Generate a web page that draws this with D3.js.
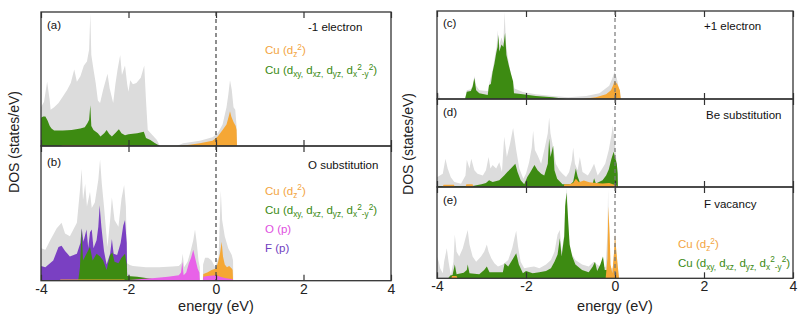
<!DOCTYPE html>
<html><head><meta charset="utf-8">
<script src="https://cdn.jsdelivr.net/npm/d3@7"></script>
<style>
body{margin:0;background:#fff}
svg{display:block}
text{font-family:"Liberation Sans",Arial,Helvetica,sans-serif}
</style>
</head><body>
<svg id="chart" width="803" height="319"></svg>
<script>
// ---------------- data: [energy (eV), DOS (states/eV)] ----------------
const xTicks = [-4, -2, 0, 2, 4];

// (a) -1 electron
const aTotal = [[-4,2.9],[-3.93,3.3],[-3.86,4.8],[-3.8,3.4],[-3.78,2.7],[-3.7,2.9],[-3.6,3.2],[-3.5,3.7],[-3.4,4.2],[-3.32,4.7],[-3.24,5.7],[-3.18,4.8],[-3.1,5.2],[-3.02,6.0],[-2.95,6.3],[-2.9,7.2],[-2.873,9.9],[-2.85,6.8],[-2.8,5.7],[-2.75,4.7],[-2.7,3.4],[-2.65,3.2],[-2.58,4.2],[-2.52,4.9],[-2.48,5.4],[-2.43,4.3],[-2.35,3.2],[-2.3,4.6],[-2.25,5.7],[-2.19,6.8],[-2.15,5.3],[-2.08,6.0],[-2.03,4.6],[-2.0,4.05],[-1.96,4.9],[-1.9,4.6],[-1.82,4.7],[-1.72,5.1],[-1.64,6.0],[-1.6,3.4],[-1.56,1.2],[-1.45,0.8],[-1.35,0.45],[-1.28,0],[-0.9,0],[-0.86,0.05],[-0.75,0.2],[-0.37,0.4],[-0.08,0.65],[0.04,0.95],[0.15,1.6],[0.24,2.9],[0.28,3.8],[0.32,4.9],[0.36,4.2],[0.40,2.9],[0.44,2.7],[0.47,1.5],[0.48,0],[4,0]];
const aCuD = [[-4,2.1],[-3.95,2.2],[-3.9,2.2],[-3.85,1.9],[-3.8,1.5],[-3.76,1.3],[-3.7,1.15],[-3.5,1.15],[-3.3,1.2],[-3.1,1.3],[-3.0,1.4],[-2.94,1.7],[-2.9,1.95],[-2.873,3.05],[-2.85,1.5],[-2.8,1.2],[-2.7,0.95],[-2.64,0.7],[-2.55,0.97],[-2.5,1.2],[-2.44,0.9],[-2.38,0.7],[-2.3,0.97],[-2.22,1.25],[-2.16,0.95],[-2.08,0.8],[-2.0,0.87],[-1.8,0.95],[-1.65,1.07],[-1.6,0.6],[-1.5,0.45],[-1.4,0.22],[-1.28,0],[4,0]];
const aCuDz2 = [[-4,0],[-3.55,0],[-3.5,0.08],[-2.05,0.08],[-2.0,0],[-0.86,0],[-0.6,0.1],[-0.37,0.2],[-0.08,0.4],[0.04,0.7],[0.15,1.2],[0.24,1.6],[0.29,2.2],[0.32,2.6],[0.35,2.2],[0.40,1.8],[0.45,1.5],[0.47,1.2],[0.48,0],[4,0]];

// (b) O substitution
const bTotal = [[-4,2.4],[-3.9,2.3],[-3.79,3.0],[-3.64,3.9],[-3.53,4.3],[-3.45,3.5],[-3.34,3.3],[-3.18,4.3],[-3.11,6.7],[-3.07,8.3],[-3.04,6.0],[-2.99,7.2],[-2.95,5.5],[-2.88,6.6],[-2.84,5.4],[-2.77,5.8],[-2.69,7.5],[-2.65,9.0],[-2.61,7.2],[-2.56,5.5],[-2.52,4.0],[-2.48,2.5],[-2.42,4.5],[-2.38,6.2],[-2.32,4.5],[-2.23,4.0],[-2.16,6.1],[-2.10,7.1],[-2.06,5.5],[-2.03,1.3],[-1.97,1.17],[-1.9,1.1],[-1.6,1.0],[-1.3,1.0],[-1.0,1.05],[-0.85,1.1],[-0.79,1.3],[-0.76,2.0],[-0.73,1.0],[-0.65,1.4],[-0.58,2.2],[-0.52,3.0],[-0.48,3.8],[-0.44,2.8],[-0.40,1.5],[-0.37,1.0],[-0.365,0],[-0.30,0],[-0.295,1.2],[-0.25,1.7],[-0.18,1.7],[-0.10,1.5],[-0.02,1.0],[0.06,1.8],[0.11,6.7],[0.14,4.5],[0.2,3.3],[0.28,2.4],[0.36,1.9],[0.39,1.5],[0.395,0],[4,0]];
const bFp = [[-4,1.1],[-3.9,1.0],[-3.72,1.5],[-3.60,2.5],[-3.53,2.6],[-3.45,2.2],[-3.34,1.8],[-3.18,2.0],[-3.10,2.8],[-3.07,3.9],[-3.03,2.9],[-2.96,3.8],[-2.92,2.4],[-2.88,3.6],[-2.84,3.8],[-2.80,2.4],[-2.73,3.0],[-2.69,4.0],[-2.66,5.6],[-2.62,4.0],[-2.56,2.2],[-2.50,1.2],[-2.42,2.0],[-2.38,3.1],[-2.34,2.0],[-2.26,1.9],[-2.18,2.8],[-2.12,4.1],[-2.08,4.5],[-2.04,2.8],[-2.03,0],[4,0]];
const bCuD = [[-4,0],[-3.15,0],[-3.11,1.0],[-3.07,3.9],[-3.04,1.5],[-2.96,2.0],[-2.88,2.5],[-2.82,1.5],[-2.73,2.0],[-2.65,1.8],[-2.58,1.5],[-2.50,0.8],[-2.42,1.9],[-2.37,2.1],[-2.32,1.4],[-2.23,1.3],[-2.16,1.7],[-2.08,2.0],[-2.04,1.2],[-2.03,0.35],[-1.8,0.3],[-1.6,0.2],[-1.4,0.1],[-1.3,0],[4,0]];
const bCuDz2 = [[-4,0],[-3.6,0],[-3.55,0.08],[-2.1,0.08],[-2.05,0],[-0.30,0],[-0.29,0.5],[-0.2,0.6],[-0.1,0.8],[0,0.9],[0.05,1.4],[0.09,2.0],[0.13,2.9],[0.16,1.8],[0.2,1.2],[0.25,1.0],[0.3,1.1],[0.36,0.9],[0.38,0.8],[0.39,0],[4,0]];
const bOp = [[-4,0],[-2.05,0],[-2.0,0.05],[-1.7,0.12],[-1.4,0.2],[-1.1,0.3],[-0.85,0.4],[-0.80,0.6],[-0.77,1.4],[-0.74,0.4],[-0.68,0.6],[-0.62,1.3],[-0.57,1.7],[-0.52,2.3],[-0.47,1.6],[-0.42,0.9],[-0.38,0.6],[-0.37,0],[-0.30,0],[-0.29,0.3],[-0.2,0.35],[0,0.4],[0.1,0.3],[0.2,0.2],[0.38,0.1],[0.39,0],[4,0]];

// (c) +1 electron
const cTotal = [[-4,1.0],[-3.96,0.6],[-3.93,0],[-3.37,0],[-3.33,1.0],[-3.24,1.1],[-3.20,1.5],[-3.16,2.6],[-3.12,1.5],[-3.05,1.0],[-2.86,0.9],[-2.82,1.9],[-2.75,3.3],[-2.71,4.5],[-2.66,6.0],[-2.64,7.8],[-2.61,5.9],[-2.58,6.5],[-2.55,7.0],[-2.51,6.3],[-2.48,9.9],[-2.45,6.3],[-2.41,4.8],[-2.35,3.1],[-2.30,2.0],[-2.26,1.2],[-2.07,0.8],[-1.78,0.55],[-1.40,0.35],[-1.05,0.2],[-0.65,0.35],[-0.35,0.65],[-0.13,1.5],[-0.06,2.35],[-0.01,3.1],[0.04,2.35],[0.11,0.65],[0.13,0],[4,0]];
const cCuD = [[-4,0],[-3.37,0],[-3.33,0.83],[-3.24,0.9],[-3.20,1.4],[-3.16,2.4],[-3.12,1.0],[-3.05,0.65],[-2.86,0.45],[-2.83,1.6],[-2.79,1.7],[-2.75,3.1],[-2.71,4.0],[-2.67,5.2],[-2.64,5.9],[-2.62,7.3],[-2.60,5.4],[-2.55,6.2],[-2.51,5.9],[-2.49,6.7],[-2.47,7.5],[-2.44,5.0],[-2.39,3.9],[-2.34,2.9],[-2.29,2.0],[-2.27,0.64],[-2.07,0.55],[-1.78,0.35],[-1.40,0.2],[-1.10,0],[4,0]];
const cCuDz2 = [[-4,0],[-0.73,0],[-0.43,0.2],[-0.20,0.55],[-0.09,1.0],[-0.04,1.6],[-0.01,2.05],[0.05,1.7],[0.11,1.0],[0.13,0],[4,0]];

// (d) Be substitution
const dTotal = [[-4,1.1],[-3.87,1.5],[-3.81,3.2],[-3.76,2.1],[-3.69,1.1],[-3.61,0.57],[-3.46,0.38],[-3.36,1.3],[-3.33,3.1],[-3.27,2.1],[-3.23,3.2],[-3.16,1.9],[-3.09,1.5],[-2.97,1.3],[-2.90,1.9],[-2.84,3.4],[-2.80,2.1],[-2.75,2.5],[-2.67,2.1],[-2.60,2.8],[-2.54,1.7],[-2.49,5.7],[-2.43,3.4],[-2.36,4.9],[-2.29,6.7],[-2.22,4.2],[-2.15,2.1],[-2.06,0.95],[-2.0,1.5],[-1.93,2.8],[-1.87,4.5],[-1.84,6.4],[-1.80,4.2],[-1.74,3.6],[-1.66,2.65],[-1.59,4.2],[-1.51,6.1],[-1.48,7.9],[-1.45,6.1],[-1.39,4.5],[-1.33,2.65],[-1.25,1.9],[-1.18,1.5],[-1.10,1.14],[-1.03,1.7],[-0.97,3.0],[-0.94,4.5],[-0.90,2.65],[-0.84,1.9],[-0.79,3.4],[-0.73,1.7],[-0.61,1.3],[-0.54,1.9],[-0.47,2.65],[-0.39,1.3],[-0.31,1.9],[-0.22,2.65],[-0.14,4.2],[-0.08,5.9],[-0.05,7.0],[-0.01,5.3],[0.04,2.65],[0.06,1.5],[0.065,0],[4,0]];
const dCuD = [[-4,0],[-3.95,0.1],[-3.5,0.1],[-3.2,0.1],[-3.0,0.3],[-2.90,0.45],[-2.83,0.76],[-2.75,0.57],[-2.60,0.76],[-2.49,1.3],[-2.42,1.7],[-2.34,2.1],[-2.24,2.65],[-2.19,1.7],[-2.12,0.76],[-2.04,0.3],[-1.97,1.14],[-1.90,1.7],[-1.81,2.5],[-1.74,1.9],[-1.66,1.5],[-1.59,1.3],[-1.51,2.65],[-1.48,5.5],[-1.45,3.4],[-1.39,4.7],[-1.36,1.9],[-1.30,0.95],[-1.18,0.3],[-1.0,0.3],[-0.94,0.6],[-0.88,2.1],[-0.84,1.2],[-0.78,0.4],[-0.5,0.4],[-0.47,1.0],[-0.43,0.4],[-0.28,0.76],[-0.20,1.3],[-0.14,2.0],[-0.08,3.2],[-0.03,4.0],[0.0,3.4],[0.04,2.65],[0.06,1.5],[0.065,0],[4,0]];
const dCuDz2 = [[-4,0],[-3.88,0],[-3.85,0.25],[-3.62,0.25],[-3.6,0],[-3.36,0],[-3.34,0.3],[-3.2,0.3],[-3.18,0],[-1.15,0],[-1.14,0.3],[-1.03,0.3],[-0.94,0.45],[-0.88,0.95],[-0.81,0.55],[-0.70,0.75],[-0.58,0.55],[-0.43,0.45],[-0.28,0.4],[-0.13,0.45],[-0.05,0.3],[0.03,0.2],[0.05,0],[4,0]];

// (e) F vacancy
const eTotal = [[-4,2.4],[-3.96,1.8],[-3.93,1.1],[-3.87,0.55],[-3.84,1.8],[-3.78,3.3],[-3.74,1.8],[-3.69,0.37],[-3.63,1.8],[-3.60,4.8],[-3.56,2.9],[-3.50,2.4],[-3.42,3.3],[-3.36,4.4],[-3.31,5.3],[-3.27,3.7],[-3.20,2.4],[-3.12,1.8],[-3.01,2.4],[-2.94,2.9],[-2.88,3.7],[-2.84,2.9],[-2.78,2.2],[-2.71,1.65],[-2.63,1.3],[-2.52,1.5],[-2.40,2.0],[-2.31,3.3],[-2.26,4.4],[-2.22,5.2],[-2.18,3.5],[-2.12,1.8],[-2.04,1.1],[-1.93,1.2],[-1.82,1.3],[-1.70,1.1],[-1.55,1.5],[-1.44,2.0],[-1.36,2.9],[-1.29,4.8],[-1.24,5.3],[-1.20,2.9],[-1.14,4.8],[-1.12,7.7],[-1.08,9.9],[-1.05,5.1],[-1.00,2.9],[-0.89,2.0],[-0.74,1.5],[-0.59,1.3],[-0.48,1.8],[-0.40,1.5],[-0.29,1.1],[-0.21,1.3],[-0.17,5.0],[-0.155,9.8],[-0.14,5.0],[-0.12,1.1],[-0.05,1.1],[-0.02,3.0],[0.0,5.1],[0.03,3.0],[0.06,1.5],[0.08,0.5],[0.09,0],[4,0]];
const eCuD = [[-4,0],[-3.75,0],[-3.70,0.3],[-3.65,0.37],[-3.60,1.5],[-3.56,0.45],[-3.40,0.6],[-3.33,0.9],[-3.31,1.5],[-3.27,0.55],[-3.05,0.45],[-2.94,0.9],[-2.88,1.3],[-2.82,0.66],[-2.52,0.66],[-2.48,1.65],[-2.40,1.3],[-2.31,2.0],[-2.22,2.75],[-2.16,1.5],[-2.07,0.55],[-2.0,0.8],[-1.85,0.55],[-1.70,0.66],[-1.55,0.8],[-1.44,1.1],[-1.36,1.8],[-1.29,2.6],[-1.24,4.4],[-1.20,2.4],[-1.14,4.6],[-1.12,7.9],[-1.09,9.4],[-1.06,7.0],[-1.02,3.7],[-0.96,2.4],[-0.89,1.5],[-0.74,0.9],[-0.59,0.66],[-0.50,1.3],[-0.45,1.8],[-0.40,0.8],[-0.33,1.5],[-0.27,2.4],[-0.23,0.9],[-0.16,0.9],[-0.11,0.66],[-0.06,0.3],[-0.05,0],[4,0]];
const eCuDz2 = [[-4,0],[-3.68,0],[-3.66,0.25],[-3.56,0.25],[-3.54,0],[-0.21,0],[-0.17,2.2],[-0.15,7.9],[-0.12,4.8],[-0.10,1.5],[-0.06,0.55],[-0.02,2.9],[0.0,4.8],[0.03,2.9],[0.07,0.9],[0.09,0],[4,0]];

const panelTags = ["(a)", "(b)", "(c)", "(d)", "(e)"];
const panelTitles = ["-1 electron", "O substitution", "+1 electron", "Be substitution", "F vacancy"];

// ---------------- styles ----------------
const COL = {total:"#dcdcdc", cud:"#3d8b12", dz2:"#f5a735", op:"#e862e8", fp:"#7a40c2"};
const TXT = {dz2:"#f3a542", cud:"#3a8a12", op:"#e050e0", fp:"#7040c0"};

const svg = d3.select("#chart");
const yDomain = [0, 10];

const legendDz2 = [["Cu (d",0],["z",1],["2",-1],[")",0]];
const legendCuD = [["Cu (d",0],["xy,",1],[" d",0],["xz,",1],[" d",0],["yz,",1],[" d",0],["x",1],["2",-1],["-y",1],["2",-1],[")",0]];

function richText(g, x, y, parts, color, size){
  const t = g.append("text").attr("x", x).attr("y", y).attr("fill", color).style("font-size", size + "px");
  let cur = 0;
  parts.forEach(([s, m]) => {
    const target = m === 1 ? size*0.3 : (m === -1 ? -size*0.38 : 0);
    t.append("tspan").attr("dy", target - cur).style("font-size", (m === 0 ? size : size*0.72) + "px").text(s);
    cur = target;
  });
  return t;
}

function drawPanel(cfg){
  const x = d3.scaleLinear().domain([-4, 4]).range([cfg.x0, cfg.x1]);
  const y = d3.scaleLinear().domain(yDomain).range([cfg.y1, cfg.y0]);
  const g = svg.append("g");
  const id = "clip" + cfg.tag.replace(/\W/g, "");
  svg.append("clipPath").attr("id", id).append("rect")
    .attr("x", cfg.x0).attr("y", cfg.y0).attr("width", cfg.x1 - cfg.x0).attr("height", cfg.y1 - cfg.y0);
  const area = d3.area().x(d => x(d[0])).y0(y(0)).y1(d => y(d[1]));
  const fills = g.append("g").attr("clip-path", `url(#${id})`);
  cfg.series.forEach(s => {
    fills.append("path").datum(s.data).attr("d", area).attr("fill", s.color);
  });
  // inner ticks at top and bottom
  g.append("g").attr("transform", `translate(0,${cfg.y0})`)
    .call(d3.axisBottom(x).tickValues(xTicks).tickSize(6).tickFormat(""))
    .call(a => a.select(".domain").remove())
    .call(a => a.selectAll("line").attr("stroke", "#333").attr("stroke-width", 1.2));
  g.append("g").attr("transform", `translate(0,${cfg.y1})`)
    .call(d3.axisTop(x).tickValues(xTicks).tickSize(6).tickFormat(""))
    .call(a => a.select(".domain").remove())
    .call(a => a.selectAll("line").attr("stroke", "#333").attr("stroke-width", 1.2));
  // Fermi level
  g.append("line").attr("x1", x(0)).attr("x2", x(0)).attr("y1", cfg.y0).attr("y2", cfg.y1)
    .attr("stroke", cfg.dashColor).attr("stroke-width", 1.2).attr("stroke-dasharray", "4,3");
  // frame
  g.append("rect").attr("x", cfg.x0).attr("y", cfg.y0).attr("width", cfg.x1 - cfg.x0).attr("height", cfg.y1 - cfg.y0)
    .attr("fill", "none").attr("stroke", "#333").attr("stroke-width", 1.3);
  // labels
  g.append("text").attr("x", cfg.x0 + 6).attr("y", cfg.tagY).style("font-size", "11.5px").attr("fill", "#111").text(cfg.tag);
  g.append("text").attr("x", cfg.titleX).attr("y", cfg.titleY).style("font-size", "11.5px").attr("fill", "#111").text(cfg.title);
  (cfg.legend || []).forEach(l => {
    if (l.parts) richText(g, l.x, l.y, l.parts, l.color, 11.5);
    else g.append("text").attr("x", l.x).attr("y", l.y).attr("fill", l.color).style("font-size", "11.5px").text(l.text);
  });
  if (cfg.bottomAxis){
    g.append("g").attr("transform", `translate(0,${cfg.y1})`)
      .call(d3.axisBottom(x).tickValues(xTicks).tickSize(0).tickPadding(3).tickFormat(d => String(d)))
      .call(a => a.select(".domain").remove())
      .call(a => a.selectAll("text").style("font-size", "14px").attr("fill", "#222")
        .style("font-family", '"Liberation Sans",Arial,sans-serif'));
    svg.append("text").attr("x", x(0)).attr("y", 311).attr("text-anchor", "middle")
      .style("font-size", "14.5px").attr("fill", "#222").text("energy (eV)");
  }
}

const L = {x0: 41, x1: 391};
const R = {x0: 437, x1: 793};

drawPanel({x0:L.x0, x1:L.x1, y0:12, y1:146, tag:panelTags[0], tagY:29, title:panelTitles[0], titleX:308, titleY:30.5, dashColor:"#444",
  series:[{data:aTotal,color:COL.total},{data:aCuD,color:COL.cud},{data:aCuDz2,color:COL.dz2}],
  legend:[{x:265,y:54,parts:legendDz2,color:TXT.dz2},{x:265,y:74,parts:legendCuD,color:TXT.cud}]});
drawPanel({x0:L.x0, x1:L.x1, y0:146, y1:280.7, tag:panelTags[1], tagY:165.5, title:panelTitles[1], titleX:308, titleY:169, dashColor:"#444", bottomAxis:true,
  series:[{data:bTotal,color:COL.total},{data:bFp,color:COL.fp},{data:bCuD,color:COL.cud},{data:bCuDz2,color:COL.dz2},{data:bOp,color:COL.op}],
  legend:[{x:265,y:194.5,parts:legendDz2,color:TXT.dz2},{x:265,y:214,parts:legendCuD,color:TXT.cud},
          {x:265,y:233,text:"O (p)",color:TXT.op},{x:265,y:252,text:"F (p)",color:TXT.fp}]});
drawPanel({x0:R.x0, x1:R.x1, y0:11, y1:99, tag:panelTags[2], tagY:27, title:panelTitles[2], titleX:704, titleY:30, dashColor:"#777",
  series:[{data:cTotal,color:COL.total},{data:cCuD,color:COL.cud},{data:cCuDz2,color:COL.dz2}]});
drawPanel({x0:R.x0, x1:R.x1, y0:99, y1:187, tag:panelTags[3], tagY:115.5, title:panelTitles[3], titleX:706, titleY:119, dashColor:"#777",
  series:[{data:dTotal,color:COL.total},{data:dCuD,color:COL.cud},{data:dCuDz2,color:COL.dz2}]});
drawPanel({x0:R.x0, x1:R.x1, y0:187, y1:278.3, tag:panelTags[4], tagY:204, title:panelTitles[4], titleX:704, titleY:208, dashColor:"#777", bottomAxis:true,
  series:[{data:eTotal,color:COL.total},{data:eCuD,color:COL.cud},{data:eCuDz2,color:COL.dz2}],
  legend:[{x:678,y:248,parts:legendDz2,color:TXT.dz2},{x:678,y:266.5,parts:legendCuD,color:TXT.cud}]});

// y-axis titles
svg.append("text").attr("transform", "translate(19,142) rotate(-90)").attr("text-anchor", "middle")
  .style("font-size", "14px").attr("fill", "#222").text("DOS (states/eV)");
svg.append("text").attr("transform", "translate(413,144) rotate(-90)").attr("text-anchor", "middle")
  .style("font-size", "14px").attr("fill", "#222").text("DOS (states/eV)");
</script>
</body></html>
